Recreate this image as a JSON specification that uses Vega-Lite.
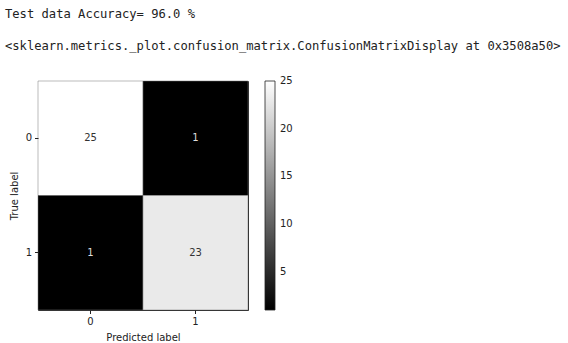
{
  "$schema": "https://vega.github.io/schema/vega-lite/v6.json",
  "width": 210,
  "height": 229,
  "autosize": {"type": "none"},
  "padding": {"left": 38, "top": 81, "right": 320, "bottom": 33},
  "background": "white",
  "title": {
    "text": "Test data Accuracy= 96.0 %",
    "subtitle": "<sklearn.metrics._plot.confusion_matrix.ConfusionMatrixDisplay at 0x3508a50>",
    "anchor": "start",
    "frame": "group",
    "orient": "top",
    "dx": -33,
    "offset": 29,
    "font": "DejaVu Sans Mono",
    "fontSize": 12.15,
    "fontWeight": "normal",
    "color": "#222222",
    "subtitleFont": "DejaVu Sans Mono",
    "subtitleFontSize": 12.15,
    "subtitleColor": "#222222",
    "subtitlePadding": 19
  },
  "data": {
    "values": [
      {"true_label": "0", "predicted_label": "0", "count": 25},
      {"true_label": "0", "predicted_label": "1", "count": 1},
      {"true_label": "1", "predicted_label": "0", "count": 1},
      {"true_label": "1", "predicted_label": "1", "count": 23}
    ]
  },
  "encoding": {
    "x": {
      "field": "predicted_label",
      "type": "ordinal",
      "title": "Predicted label",
      "scale": {"paddingInner": 0, "paddingOuter": 0},
      "axis": {
        "labelAngle": 0,
        "labelFont": "DejaVu Sans",
        "labelFontSize": 10,
        "labelColor": "#222222",
        "titleFont": "DejaVu Sans",
        "titleFontSize": 10,
        "titleFontWeight": "normal",
        "titleColor": "#222222",
        "titlePadding": 6,
        "tickSize": 3.5,
        "tickColor": "#222222",
        "domain": false,
        "labelPadding": 3
      }
    },
    "y": {
      "field": "true_label",
      "type": "ordinal",
      "title": "True label",
      "scale": {"paddingInner": 0, "paddingOuter": 0},
      "axis": {
        "labelFont": "DejaVu Sans",
        "labelFontSize": 10,
        "labelColor": "#222222",
        "titleFont": "DejaVu Sans",
        "titleFontSize": 10,
        "titleFontWeight": "normal",
        "titleColor": "#222222",
        "titlePadding": 6,
        "tickSize": 3.5,
        "tickColor": "#222222",
        "domain": false,
        "labelPadding": 3
      }
    }
  },
  "layer": [
    {
      "mark": {"type": "rect", "stroke": "#777777", "strokeWidth": 0.5},
      "encoding": {
        "color": {
          "field": "count",
          "type": "quantitative",
          "scale": {"domain": [1, 25], "range": ["#000000", "#ffffff"], "interpolate": "rgb"},
          "legend": {
            "orient": "none",
            "legendX": 227,
            "legendY": 0,
            "title": null,
            "direction": "vertical",
            "gradientLength": 229,
            "gradientThickness": 10,
            "gradientStrokeColor": "#222222",
            "gradientStrokeWidth": 0.8,
            "values": [5, 10, 15, 20, 25],
            "labelFont": "DejaVu Sans",
            "labelFontSize": 10,
            "labelColor": "#222222",
            "labelOffset": 5,
            "labelOverlap": false,
            "encode": {
              "labels": {"update": {"baseline": {"value": "middle"}}}
            }
          }
        }
      }
    },
    {
      "mark": {"type": "text", "font": "DejaVu Sans", "fontSize": 10},
      "encoding": {
        "text": {"field": "count", "type": "quantitative"},
        "color": {
          "condition": {"test": "datum.count > 13", "value": "#333333"},
          "value": "#dddddd"
        }
      }
    }
  ],
  "config": {
    "view": {"stroke": "#222222", "strokeWidth": 1}
  }
}
